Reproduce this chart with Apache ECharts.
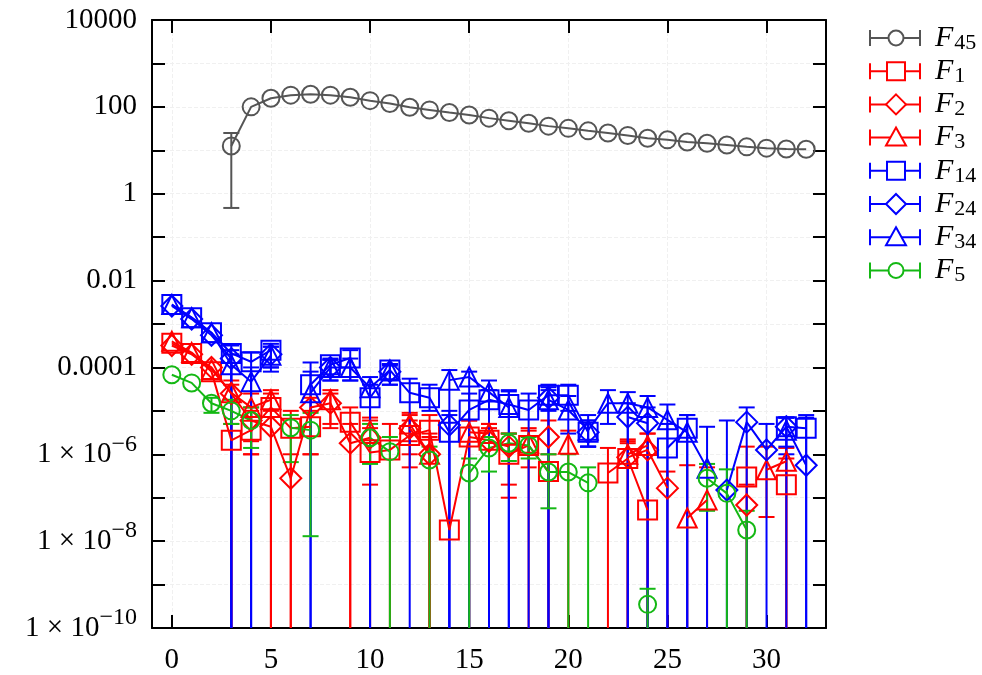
<!DOCTYPE html>
<html>
<head>
<meta charset="UTF-8">
<title>F series</title>
<script src="https://cdn.jsdelivr.net/npm/echarts@6/dist/echarts.min.js"></script>
<style>
  html, body { margin: 0; padding: 0; background: #fff; }
</style>
</head>
<body>
<div id="main" style="width:982px;height:675px"></div>
<script>
// x positions
var xs = [0,1,2,3,4,5,6,7,8,9,10,11,12,13,14,15,16,17,18,19,20,21,22,23,24,25,26,27,28,29,30,31,32];
var xTicks = [0, 5, 10, 15, 20, 25, 30];

// values per x (null = no point). error lists: [x, low, high], low 0 = runs off the bottom
var f45 = [null,null,null,12.6,100,158,186,195,186,166,139,120,98,85,74,65,55,48,42,36,32,28,25,22,19,17.4,15.5,14.5,13.2,12,11.2,10.7,10.6];
var f45Err = [[3, 0.47, 25]];

var f1 = [3.6e-4,2.1e-4,8e-5,2.1e-6,3.6e-6,1.2e-5,4e-6,4.3e-6,null,5.5e-6,1.1e-6,1.26e-6,2.7e-6,3.6e-6,1.8e-8,2.5e-6,2.1e-6,1e-6,1.6e-6,4e-7,null,null,3.7e-7,8e-7,5.2e-8,null,null,null,null,3e-7,null,2e-7,null];
var f1Err = [[3,0,5e-6],[4,1e-6,1e-5],[5,0,2.5e-5],[6,0,1e-5],[7,1e-6,1e-5],[9,0,1.2e-5],[10,0,4e-6],[11,0,5e-6],[12,5e-7,6e-6],[13,0,8e-6],[15,0,6e-6],[16,0,5e-6],[17,2e-7,3e-6],[18,0,4e-6],[19,0,1e-6],[22,0,1.4e-6],[23,0,1.8e-6],[29,0,1.5e-6],[31,0,8e-7]];

var f2 = [3.2e-4,2e-4,1e-4,2.5e-5,6e-6,4.3e-6,2.8e-7,1.2e-5,1.5e-5,1.8e-6,2.4e-6,null,4e-6,1e-6,null,null,2e-6,1.5e-6,null,2.5e-6,null,null,null,8.5e-7,1.26e-6,1.66e-7,null,null,null,6.8e-8,null,null,null];
var f2Err = [[3,0,4e-5],[4,1e-6,1.2e-5],[5,0,1e-5],[6,0,1e-6],[7,1e-6,2e-5],[8,4e-6,2.5e-5],[9,0,5e-6],[10,2e-7,6e-6],[12,1e-6,8e-6],[13,0,3e-6],[16,0,4e-6],[17,1e-7,3e-6],[19,0,6e-6],[23,0,2e-6],[24,0,3e-6],[25,0,4e-7],[29,0,2e-7]];

var f3 = [4e-4,2.2e-4,9e-5,2.6e-5,1.2e-5,1.8e-5,null,null,1.8e-5,null,3.5e-6,null,5e-6,1e-6,null,3.2e-6,3e-6,null,1.8e-6,null,1.7e-6,null,null,1e-6,1.6e-6,null,3.4e-8,8.9e-8,null,null,4.4e-7,6.9e-7,null];
var f3Err = [[3,0,5e-5],[4,2e-6,2.5e-5],[5,0,3e-5],[8,5e-6,3e-5],[10,0,7e-6],[12,2e-6,9e-6],[13,0,2.5e-6],[15,0,6e-6],[16,0,5e-6],[18,5e-7,3.5e-6],[20,0,3.5e-6],[23,0,2.2e-6],[24,0,3e-6],[26,0,5.6e-7],[27,0,5e-7],[30,3.6e-8,1.5e-6],[31,0,1.4e-6]];

var f14 = [2.8e-3,1.4e-3,6.3e-4,2.1e-4,1.35e-4,2.5e-4,null,4e-5,1.15e-4,1.65e-4,2e-5,8.7e-5,2.6e-5,2e-5,3.2e-6,1.05e-5,1.8e-5,1.4e-5,1.05e-5,2.3e-5,2.3e-5,3.2e-6,null,null,null,1.4e-6,4e-6,null,null,null,null,4.3e-6,4e-6];
var f14Err = [[3,0,3.2e-4],[4,0,2.2e-4],[5,1e-4,3.5e-4],[7,0,1.3e-4],[8,6e-5,1.6e-4],[9,5e-5,2.5e-4],[10,0,4e-5],[11,5e-5,1.1e-4],[12,0,5.5e-5],[13,1e-5,4e-5],[14,0,8e-6],[15,0,2.5e-5],[16,0,3e-5],[17,0,2.8e-5],[18,0,2.5e-5],[19,0,4e-5],[20,1e-5,4e-5],[21,1.5e-6,6e-6],[25,0,5e-6],[26,0,8e-6],[31,1.5e-6,7e-6],[32,0,8e-6]];

var f24 = [2.6e-3,1.3e-3,5.5e-4,1.6e-4,null,2e-4,null,null,1e-4,null,null,8e-5,null,null,4.7e-6,null,null,null,null,2e-5,null,3.2e-6,null,7.2e-6,5.2e-6,null,null,null,1.5e-7,5.5e-6,1.26e-6,4.3e-6,5.6e-7];
var f24Err = [[3,0,2.5e-4],[5,8e-5,3e-4],[8,5e-5,1.5e-4],[11,4e-5,1.2e-4],[14,0,1e-5],[19,1e-5,3e-5],[21,1.5e-6,6e-6],[23,0,1.5e-5],[24,0,1.2e-5],[28,0,6e-6],[29,0,1.2e-5],[30,0,5e-6],[31,0,7e-6],[32,0,7e-6]];

var f34 = [2.8e-3,1.4e-3,6.3e-4,1.15e-4,4.7e-5,1.9e-4,null,2.6e-5,1e-4,1e-4,3.4e-5,8.7e-5,null,null,5.1e-5,6e-5,2.7e-5,1.2e-5,null,1.8e-5,1.05e-5,3.6e-6,1.5e-5,1.5e-5,1.2e-5,6.2e-6,3.2e-6,4.8e-7,null,null,null,3.6e-6,null];
var f34Err = [[3,0,2e-4],[4,0,1e-4],[5,1e-4,3e-4],[7,0,8e-5],[8,5e-5,1.5e-4],[9,5e-5,1.6e-4],[10,0,6e-5],[11,4e-5,1.2e-4],[14,0,8.7e-5],[15,0,8e-5],[16,0,5e-5],[17,0,3e-5],[19,0,3.5e-5],[20,3e-6,2.2e-5],[21,1.5e-6,8e-6],[22,5e-6,3e-5],[23,0,2.7e-5],[24,0,2.2e-5],[25,0,1.4e-5],[26,0,8e-6],[27,0,4.3e-6],[31,1e-6,7e-6]];

var f5 = [6.8e-5,4.4e-5,1.5e-5,1e-5,6e-6,null,4.1e-6,3.6e-6,null,null,2.4e-6,1.15e-6,null,7.4e-7,null,3.7e-7,1.4e-6,1.8e-6,1.6e-6,3.9e-7,3.9e-7,2.2e-7,null,null,3.5e-10,null,null,2.8e-7,1.26e-7,1.8e-8,null,null,null];
var f5Err = [[2,9e-6,2e-5],[3,5e-6,1.8e-5],[4,1.4e-6,1.2e-5],[6,6.6e-7,8e-6],[7,1.3e-8,9e-6],[10,6e-7,5e-6],[11,0,2.5e-6],[13,0,1.5e-6],[15,0,8e-7],[16,4e-7,2.5e-6],[17,7e-7,3e-6],[18,8e-7,2.5e-6],[19,5.7e-8,1e-6],[20,0,1e-6],[21,0,5e-7],[24,0,8e-10],[27,5e-8,6e-7],[28,0,4.5e-7],[29,0,5e-8]];

var YMIN = 1e-10, YMAX = 1e4;
var FONT = 'Liberation Serif';
var GRAY = '#555555', RED = '#ff0000', BLUE = '#0000ff', GREEN = '#14b814';

var defs = [
  {sub: '45', vals: f45, err: f45Err, color: GRAY,  symbol: 'circle',   size: 17},
  {sub: '1',  vals: f1,  err: f1Err,  color: RED,   symbol: 'rect',     size: 19},
  {sub: '2',  vals: f2,  err: f2Err,  color: RED,   symbol: 'diamond',  size: 21},
  {sub: '3',  vals: f3,  err: f3Err,  color: RED,   symbol: 'triangle', size: 19},
  {sub: '14', vals: f14, err: f14Err, color: BLUE,  symbol: 'rect',     size: 19},
  {sub: '24', vals: f24, err: f24Err, color: BLUE,  symbol: 'diamond',  size: 21},
  {sub: '34', vals: f34, err: f34Err, color: BLUE,  symbol: 'triangle', size: 19},
  {sub: '5',  vals: f5,  err: f5Err,  color: GREEN, symbol: 'circle',   size: 17}
];

var myChart = echarts.init(document.getElementById('main'));

// error bar: vertical line, caps at ends (no cap when it leaves the plot)
function makeErr(color) {
  return function (params, api) {
    var x = api.value(0), lo = api.value(1), hi = api.value(2);
    var top = api.coord([x, hi]);
    var bot = api.coord([x, lo > 0 ? lo : YMIN]);
    var st = {stroke: color, lineWidth: 2};
    var kids = [
      {type: 'line', shape: {x1: top[0], y1: top[1], x2: bot[0], y2: bot[1]}, style: st},
      {type: 'line', shape: {x1: top[0] - 8, y1: top[1], x2: top[0] + 8, y2: top[1]}, style: st}
    ];
    if (lo > 0) {
      kids.push({type: 'line', shape: {x1: bot[0] - 8, y1: bot[1], x2: bot[0] + 8, y2: bot[1]}, style: st});
    }
    return {type: 'group', children: kids};
  };
}

var series = [];
defs.forEach(function (d) {
  series.push({
    type: 'custom',
    renderItem: makeErr(d.color),
    data: d.err,
    encode: {x: 0, y: 2},
    clip: true,
    silent: true
  });
  series.push({
    type: 'line',
    data: xs.map(function (x, i) { return [x, d.vals[i] == null ? '-' : d.vals[i]]; }),
    symbol: d.symbol,
    symbolSize: d.size,
    showAllSymbol: true,
    connectNulls: false,
    clip: true,
    lineStyle: {color: d.color, width: 2},
    itemStyle: {color: 'transparent', borderColor: d.color, borderWidth: 2},
    silent: true
  });
});

function yLabel(v) {
  var e = Math.round(Math.log(v) / Math.LN10);
  if (e % 2 !== 0) return '';
  if (e >= 0) return String(Math.pow(10, e));
  if (e >= -4) return '0.' + new Array(-e).join('0') + '1';
  return '1 × 10{sup|−' + (-e) + '}';
}

// legend drawn as graphic rows
var graphics = [];
defs.forEach(function (d, i) {
  var y = 38 + i * 33.2, cx = 896;
  var st = {stroke: d.color, lineWidth: 2, fill: 'none'};
  graphics.push({type: 'line', shape: {x1: 870, y1: y, x2: 920, y2: y}, style: st});
  graphics.push({type: 'line', shape: {x1: 870, y1: y - 8, x2: 870, y2: y + 8}, style: st});
  graphics.push({type: 'line', shape: {x1: 920, y1: y - 8, x2: 920, y2: y + 8}, style: st});
  var mk;
  if (d.symbol === 'circle') mk = {type: 'circle', shape: {cx: cx, cy: y, r: 7.5}};
  else if (d.symbol === 'rect') mk = {type: 'rect', shape: {x: cx - 9, y: y - 9, width: 18, height: 18}};
  else if (d.symbol === 'diamond') mk = {type: 'polygon', shape: {points: [[cx, y - 10], [cx + 10, y], [cx, y + 10], [cx - 10, y]]}};
  else mk = {type: 'polygon', shape: {points: [[cx, y - 10], [cx + 10, y + 8], [cx - 10, y + 8]]}};
  mk.style = {stroke: d.color, lineWidth: 2, fill: '#fff'};
  graphics.push(mk);
  graphics.push({
    type: 'text', x: 935, y: y - 16,
    style: {
      text: '{f|F}{s|' + d.sub + '}',
      rich: {
        f: {fontFamily: FONT, fontStyle: 'italic', fontSize: 30, fill: '#000', lineHeight: 32},
        s: {fontFamily: FONT, fontSize: 22, fill: '#000', lineHeight: 32, verticalAlign: 'bottom', padding: [14, 0, 0, 1]}
      }
    }
  });
});

var axisLine = {show: true, onZero: false, lineStyle: {color: '#000', width: 2}};
var tick = {show: true, inside: true, length: 13, lineStyle: {color: '#000', width: 2}};
var grid = {show: true, lineStyle: {color: '#f0f0f0', type: 'dashed', width: 1}};

var option = {
  animation: false,
  backgroundColor: '#fff',
  grid: {left: 152, top: 20, width: 674, height: 608, containLabel: false},
  xAxis: [
    {type: 'value', min: -1, max: 33, position: 'bottom',
     axisLine: axisLine,
     axisTick: Object.assign({customValues: xTicks}, tick),
     axisLabel: {customValues: xTicks, fontFamily: FONT, fontSize: 29, color: '#000', margin: 18},
     splitLine: grid},
    {type: 'value', min: -1, max: 33, position: 'top',
     axisLine: axisLine,
     axisTick: Object.assign({customValues: xTicks}, tick),
     axisLabel: {show: false}, splitLine: {show: false}}
  ],
  yAxis: [
    {type: 'log', logBase: 10, min: YMIN, max: YMAX, interval: 1, position: 'left',
     axisLine: axisLine, axisTick: tick,
     axisLabel: {formatter: yLabel, fontFamily: FONT, fontSize: 29, color: '#000', margin: 15,
                 rich: {sup: {fontFamily: FONT, fontSize: 24, color: '#000', verticalAlign: 'top', padding: [0, 0, 20, 0]}}},
     splitLine: grid},
    {type: 'log', logBase: 10, min: YMIN, max: YMAX, interval: 1, position: 'right',
     axisLine: axisLine, axisTick: tick,
     axisLabel: {show: false}, splitLine: {show: false}}
  ],
  series: series,
  graphic: {elements: graphics}
};

myChart.setOption(option);
</script>
</body>
</html>
